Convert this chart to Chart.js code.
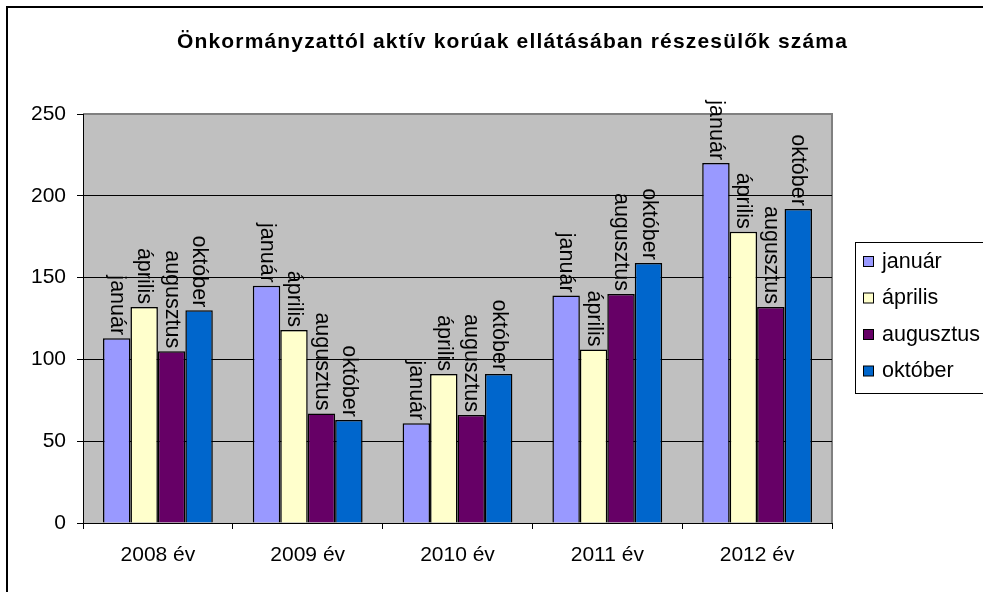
<!DOCTYPE html>
<html>
<head>
<meta charset="utf-8">
<script src="https://cdn.jsdelivr.net/npm/chart.js@4.4.1/dist/chart.umd.min.js"></script>
<style>
  html, body { margin: 0; padding: 0; background: #fff; }
  canvas { display: block; }
</style>
</head>
<body>
<canvas id="barChart" width="983" height="592"></canvas>
<script>
// Chart data
const title = 'Önkormányzattól aktív korúak ellátásában részesülők száma';
const years = ['2008 év', '2009 év', '2010 év', '2011 év', '2012 év'];
const months = ['január', 'április', 'augusztus', 'október'];
const januar = [113, 145, 61, 139, 220];
const aprilis = [132, 118, 91, 106, 178];
const augusztus = [105, 67, 66, 140, 132];
const oktober = [130, 63, 91, 159, 192];
const yTicks = [0, 50, 100, 150, 200, 250];

const colors = ['#9999FF', '#FFFFCC', '#660066', '#0066CC'];
const FONT = "'Liberation Sans', Arial, sans-serif";

// Background, plot area and outer frame
const backgroundPlugin = {
    id: 'background',
    beforeDraw(chart) {
        const { ctx, chartArea: a } = chart;
        ctx.save();
        ctx.fillStyle = '#fff';
        ctx.fillRect(0, 0, chart.width, chart.height);
        ctx.strokeStyle = '#000';
        ctx.lineWidth = 2;
        ctx.beginPath();
        ctx.moveTo(7, chart.height + 5);
        ctx.lineTo(7, 7);
        ctx.lineTo(chart.width + 5, 7);
        ctx.stroke();
        ctx.fillStyle = '#C0C0C0';
        ctx.fillRect(a.left, a.top, a.right - a.left, a.bottom - a.top);
        ctx.strokeStyle = '#808080';
        ctx.lineWidth = 2;
        ctx.beginPath();
        ctx.moveTo(a.left, a.top);
        ctx.lineTo(a.right, a.top);
        ctx.lineTo(a.right, a.bottom);
        ctx.stroke();
        ctx.restore();
    }
};

// Title, rotated bar labels and legend box
const textPlugin = {
    id: 'texts',
    afterDatasetsDraw(chart) {
        const ctx = chart.ctx;
        ctx.save();
        ctx.fillStyle = '#000';
        ctx.font = '21.5px ' + FONT;
        ctx.textAlign = 'right';
        ctx.textBaseline = 'middle';
        chart.data.datasets.forEach((ds, i) => {
            chart.getDatasetMeta(i).data.forEach(bar => {
                ctx.save();
                ctx.translate(bar.x, bar.y - 3);
                ctx.rotate(Math.PI / 2);
                ctx.fillText(ds.label, 0, 0);
                ctx.restore();
            });
        });
        ctx.restore();
    },
    afterDraw(chart) {
        const ctx = chart.ctx;
        ctx.save();
        // title
        ctx.fillStyle = '#000';
        ctx.font = 'bold 21px ' + FONT;
        ctx.textBaseline = 'middle';
        ctx.textAlign = 'left';
        ctx.letterSpacing = '0px';
        const w = ctx.measureText(title).width;
        ctx.letterSpacing = ((671 - w) / title.length) + 'px';
        ctx.fillText(title, 177, 42);
        ctx.letterSpacing = '0px';

        // legend
        ctx.strokeStyle = '#000';
        ctx.lineWidth = 1;
        ctx.fillStyle = '#fff';
        ctx.fillRect(855.5, 242.5, 200, 151);
        ctx.strokeRect(855.5, 242.5, 200, 151);
        ctx.font = '21.5px ' + FONT;
        chart.data.datasets.forEach((ds, i) => {
            const y = 262 + i * 36.5;
            ctx.fillStyle = ds.backgroundColor;
            ctx.fillRect(863.5, y - 5.5, 10, 10);
            ctx.strokeRect(863.5, y - 5.5, 10, 10);
            ctx.fillStyle = '#000';
            ctx.fillText(ds.label, 882, y);
        });
        ctx.restore();
    }
};

const seriesValues = [januar, aprilis, augusztus, oktober];

const ctx = document.getElementById('barChart').getContext('2d');
new Chart(ctx, {
    type: 'bar',
    data: {
        labels: years,
        datasets: months.map((m, i) => ({
            label: m,
            data: seriesValues[i],
            backgroundColor: colors[i],
            borderColor: '#000',
            borderWidth: 1.5,
            categoryPercentage: 0.733,
            barPercentage: 1.0
        }))
    },
    options: {
        responsive: false,
        animation: false,
        layout: {
            padding: { left: 0, top: 114, right: 151, bottom: 0 }
        },
        plugins: {
            legend: { display: false },
            title: { display: false },
            tooltip: { enabled: false }
        },
        scales: {
            x: {
                offset: true,
                grid: {
                    display: true,
                    offset: true,
                    drawOnChartArea: false,
                    color: '#000',
                    tickLength: 6
                },
                border: { display: true, color: '#000' },
                ticks: {
                    color: '#000',
                    font: { family: FONT, size: 21 },
                    padding: 14
                },
                afterFit(scale) { scale.height = 69; }
            },
            y: {
                min: 0,
                max: 250,
                afterBuildTicks(scale) {
                    scale.ticks = yTicks.map(v => ({ value: v }));
                },
                grid: {
                    color: c => (c.tick && c.tick.value === 250) ? '#808080' : '#000',
                    tickColor: '#000',
                    tickLength: 6
                },
                border: { display: true, color: '#000' },
                ticks: {
                    color: '#000',
                    font: { family: FONT, size: 21 },
                    padding: 11
                },
                afterFit(scale) { scale.width = 83; }
            }
        }
    },
    plugins: [backgroundPlugin, textPlugin]
});
</script>
</body>
</html>
